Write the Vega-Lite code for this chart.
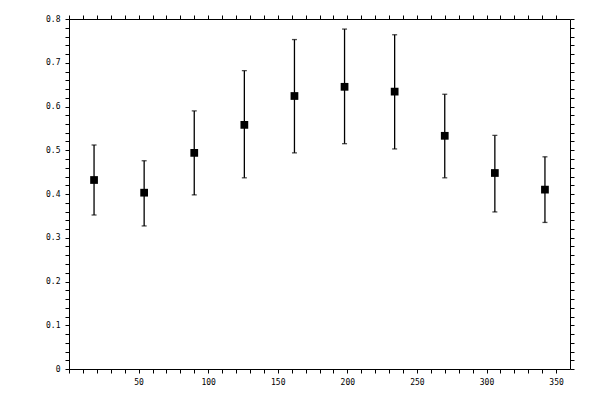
{
  "$schema": "https://vega.github.io/schema/vega-lite/v6.json",
  "description": "Mean with error bars over angle",
  "autosize": "none",
  "width": 501,
  "height": 350,
  "padding": {"left": 69, "top": 19, "right": 30, "bottom": 31},
  "background": "white",
  "config": {
    "view": {"stroke": null},
    "font": "DejaVu Sans Mono",
    "axis": {
      "grid": false,
      "title": null,
      "domainColor": "black",
      "domainWidth": 1,
      "tickColor": "black",
      "tickWidth": 1,
      "tickSize": 4,
      "labelFont": "DejaVu Sans Mono",
      "labelFontSize": 8,
      "labelColor": "black",
      "labelPadding": 5,
      "labelOverlap": false,
      "labelBound": false,
      "labelFlush": false
    }
  },
  "data": {
    "values": [
      {"angle": 18, "mean": 0.432, "lo": 0.352, "hi": 0.512},
      {"angle": 54, "mean": 0.403, "lo": 0.327, "hi": 0.476},
      {"angle": 90, "mean": 0.494, "lo": 0.398, "hi": 0.590},
      {"angle": 126, "mean": 0.558, "lo": 0.437, "hi": 0.682},
      {"angle": 162, "mean": 0.624, "lo": 0.494, "hi": 0.753},
      {"angle": 198, "mean": 0.645, "lo": 0.515, "hi": 0.777},
      {"angle": 234, "mean": 0.634, "lo": 0.503, "hi": 0.764},
      {"angle": 270, "mean": 0.533, "lo": 0.437, "hi": 0.628},
      {"angle": 306, "mean": 0.448, "lo": 0.359, "hi": 0.534},
      {"angle": 342, "mean": 0.410, "lo": 0.335, "hi": 0.485}
    ]
  },
  "resolve": {"axis": {"x": "independent", "y": "independent"}},
  "layer": [
    {
      "mark": {"type": "rule", "color": "black", "strokeWidth": 1.3},
      "encoding": {
        "x": {
          "field": "angle",
          "type": "quantitative",
          "scale": {"domain": [0, 360], "nice": false, "zero": false},
          "axis": {
            "orient": "bottom",
            "values": [0, 10, 20, 30, 40, 50, 60, 70, 80, 90, 100, 110, 120, 130, 140, 150, 160, 170, 180, 190, 200, 210, 220, 230, 240, 250, 260, 270, 280, 290, 300, 310, 320, 330, 340, 350],
            "labelExpr": "datum.value % 50 === 0 && datum.value > 0 ? datum.label : ''",
            "encode": {
              "ticks": {"y": {"condition": {"test": "datum.value % 50 === 0", "value": -4}, "value": 0}}
            }
          }
        },
        "y": {
          "field": "lo",
          "type": "quantitative",
          "scale": {"domain": [0, 0.8], "nice": false},
          "axis": {
            "orient": "left",
            "values": [0, 0.02, 0.04, 0.06, 0.08, 0.1, 0.12, 0.14, 0.16, 0.18, 0.2, 0.22, 0.24, 0.26, 0.28, 0.3, 0.32, 0.34, 0.36, 0.38, 0.4, 0.42, 0.44, 0.46, 0.48, 0.5, 0.52, 0.54, 0.56, 0.58, 0.6, 0.62, 0.64, 0.66, 0.68, 0.7, 0.72, 0.74, 0.76, 0.78, 0.8],
            "labelExpr": "abs(datum.value * 10 - round(datum.value * 10)) < 1e-6 ? (datum.value == 0 ? '0' : format(datum.value, '.1f')) : ''",
            "encode": {
              "ticks": {"x": {"condition": {"test": "abs(datum.value * 10 - round(datum.value * 10)) < 1e-6", "value": 4}, "value": 0}}
            }
          }
        },
        "y2": {"field": "hi"}
      }
    },
    {
      "mark": {"type": "square", "color": "black", "filled": true, "opacity": 1, "size": 60},
      "encoding": {
        "x": {
          "field": "angle",
          "type": "quantitative",
          "axis": {
            "orient": "top",
            "values": [0, 10, 20, 30, 40, 50, 60, 70, 80, 90, 100, 110, 120, 130, 140, 150, 160, 170, 180, 190, 200, 210, 220, 230, 240, 250, 260, 270, 280, 290, 300, 310, 320, 330, 340, 350],
            "labels": false,
            "encode": {
              "ticks": {"y": {"condition": {"test": "datum.value % 50 === 0", "value": 4}, "value": 0}}
            }
          }
        },
        "y": {
          "field": "mean",
          "type": "quantitative",
          "axis": {
            "orient": "right",
            "values": [0, 0.02, 0.04, 0.06, 0.08, 0.1, 0.12, 0.14, 0.16, 0.18, 0.2, 0.22, 0.24, 0.26, 0.28, 0.3, 0.32, 0.34, 0.36, 0.38, 0.4, 0.42, 0.44, 0.46, 0.48, 0.5, 0.52, 0.54, 0.56, 0.58, 0.6, 0.62, 0.64, 0.66, 0.68, 0.7, 0.72, 0.74, 0.76, 0.78, 0.8],
            "labels": false,
            "encode": {
              "ticks": {"x": {"condition": {"test": "abs(datum.value * 10 - round(datum.value * 10)) < 1e-6", "value": -4}, "value": 0}}
            }
          }
        }
      }
    },
    {
      "mark": {"type": "tick", "orient": "horizontal", "color": "black", "size": 5, "thickness": 1.3},
      "encoding": {
        "x": {"field": "angle", "type": "quantitative", "axis": null},
        "y": {"field": "lo", "type": "quantitative", "axis": null}
      }
    },
    {
      "mark": {"type": "tick", "orient": "horizontal", "color": "black", "size": 5, "thickness": 1.3},
      "encoding": {
        "x": {"field": "angle", "type": "quantitative", "axis": null},
        "y": {"field": "hi", "type": "quantitative", "axis": null}
      }
    }
  ]
}
